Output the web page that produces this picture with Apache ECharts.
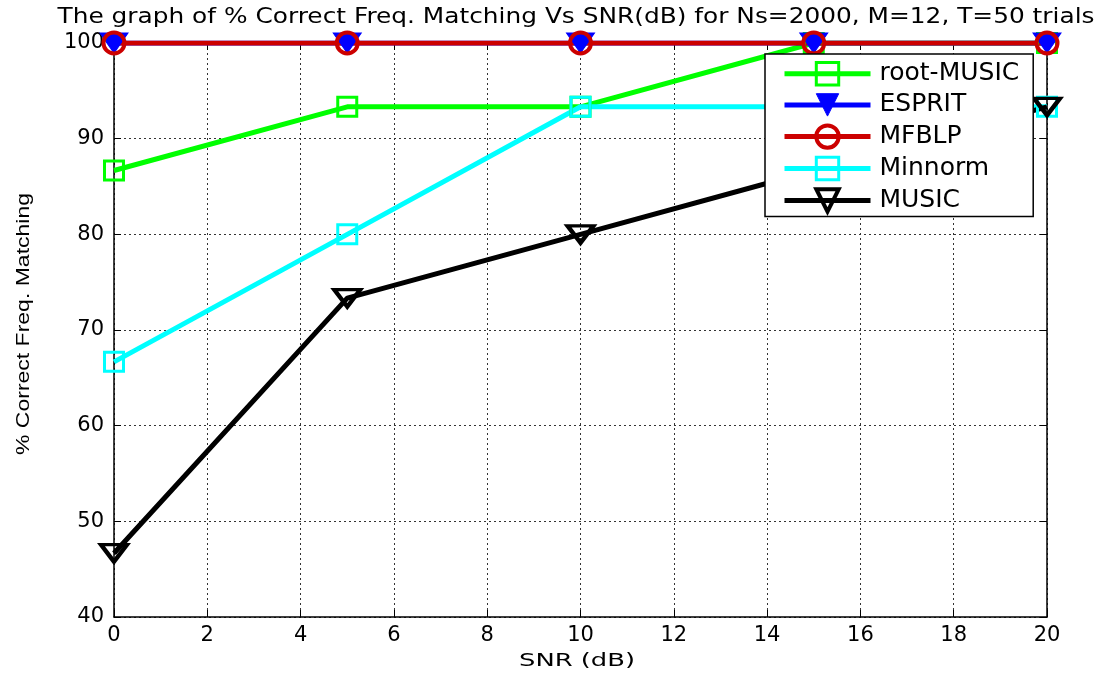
<!DOCTYPE html>
<html>
<head>
<meta charset="utf-8">
<script src="https://cdn.jsdelivr.net/npm/echarts@6/dist/echarts.min.js"></script>
<style>
  html, body { margin: 0; padding: 0; background: #fff; }
  #chart { width: 1114px; height: 680px; }
</style>
</head>
<body>
<div id="chart"></div>
<script>
// SNR values (dB) at which each method was evaluated
const snr = [0, 5, 10, 15, 20];

// % of trials with correct frequency matching, per method
const rootMusic = [86.67, 93.33, 93.33, 100, 100];
const esprit    = [100, 100, 100, 100, 100];
const mfblp     = [100, 100, 100, 100, 100];
const minnorm   = [66.67, 80, 93.33, 93.33, 93.33];
const music     = [46.67, 73.33, 80, 86.67, 93.33];

const methods = ['root-MUSIC', 'ESPRIT', 'MFBLP', 'Minnorm', 'MUSIC'];

const titleText = 'The graph of % Correct Freq. Matching Vs SNR(dB) for Ns=2000, M=12, T=50 trials';
const xName = 'SNR (dB)';
const yName = '% Correct Freq. Matching';

const FONT = 'DejaVu Sans, Verdana, sans-serif';
const FONT_NARROW = 'Liberation Sans, Arial, Helvetica, sans-serif';

// Horizontal stretch factor so a string spans a given pixel width
const measureCtx = document.createElement('canvas').getContext('2d');
function stretchTo(text, font, targetWidth) {
  measureCtx.font = font;
  return targetWidth / measureCtx.measureText(text).width;
}

function pairs(vals) {
  return snr.map((x, i) => [x, vals[i]]);
}

function makeSeries(name, vals, color, symbol, size, rotate, filled, lineW, borderW) {
  return {
    name: name,
    type: 'line',
    data: pairs(vals),
    symbol: symbol,
    symbolSize: size,
    symbolRotate: rotate,
    showAllSymbol: true,
    lineStyle: { color: color, width: lineW },
    itemStyle: {
      color: filled ? color : 'rgba(255,255,255,0)',
      borderColor: color,
      borderWidth: borderW
    },
    emphasis: { disabled: true },
    animation: false
  };
}

const chart = echarts.init(document.getElementById('chart'), null, { renderer: 'canvas' });

const axisLineStyle = { color: '#000', width: 1.5 };
const tickStyle = { show: true, inside: true, length: 7, lineStyle: { color: '#000', width: 1 } };
const gridLineStyle = { color: '#333', width: 1, type: [2, 3] };
const tickLabel = { fontFamily: FONT, fontSize: 21, color: '#000' };

const option = {
  backgroundColor: '#ffffff',
  animation: false,
  grid: { left: 114, right: 67, top: 43, bottom: 63 },
  graphic: [
    {
      type: 'text', x: 576, y: 18, scaleX: stretchTo(titleText, '21px ' + FONT, 1037),
      style: { text: titleText, font: '21px ' + FONT, fill: '#000', align: 'center', verticalAlign: 'middle' }
    },
    {
      type: 'text', x: 577, y: 661, scaleX: stretchTo(xName, '18px ' + FONT, 116),
      style: { text: xName, font: '18px ' + FONT, fill: '#000', align: 'center', verticalAlign: 'middle' }
    },
    {
      type: 'text', x: 24, y: 324, rotation: Math.PI / 2, scaleX: stretchTo(yName, '19px ' + FONT_NARROW, 262),
      style: { text: yName, font: '19px ' + FONT_NARROW, fill: '#000', align: 'center', verticalAlign: 'middle' }
    }
  ],
  legend: {
    orient: 'vertical',
    left: 765,
    top: 54,
    padding: [7, 14, 3, 17],
    itemGap: 6,
    itemWidth: 86,
    itemHeight: 28,
    backgroundColor: '#fff',
    borderColor: '#000',
    borderWidth: 1.5,
    borderRadius: 0,
    lineStyle: { width: 5 },
    itemStyle: { borderWidth: 3 },
    textStyle: { fontFamily: FONT, fontSize: 25, color: '#000', padding: [0, 0, 0, 4] },
    data: [
      { name: methods[0] },
      { name: methods[1], itemStyle: { borderWidth: 1 } },
      { name: methods[2], itemStyle: { borderWidth: 4 } },
      { name: methods[3] },
      { name: methods[4], itemStyle: { borderWidth: 4 } }
    ]
  },
  xAxis: [{
    type: 'value',
    min: 0, max: 20, interval: 2,
    axisLine: { show: true, onZero: false, lineStyle: axisLineStyle },
    axisTick: tickStyle,
    axisLabel: Object.assign({ margin: 8 }, tickLabel),
    splitLine: { show: true, lineStyle: gridLineStyle }
  }, {
    type: 'value',
    position: 'top',
    min: 0, max: 20, interval: 2,
    axisLine: { show: true, onZero: false, lineStyle: axisLineStyle },
    axisTick: tickStyle,
    axisLabel: { show: false },
    splitLine: { show: false }
  }],
  yAxis: [{
    type: 'value',
    min: 40, max: 100, interval: 10,
    axisLine: { show: true, onZero: false, lineStyle: axisLineStyle },
    axisTick: tickStyle,
    axisLabel: Object.assign({ margin: 10 }, tickLabel),
    splitLine: { show: true, lineStyle: gridLineStyle }
  }, {
    type: 'value',
    position: 'right',
    min: 40, max: 100, interval: 10,
    axisLine: { show: true, onZero: false, lineStyle: axisLineStyle },
    axisTick: tickStyle,
    axisLabel: { show: false },
    splitLine: { show: false }
  }],
  series: [
    makeSeries(methods[0], rootMusic, '#00ff00', 'rect', 19, 0, false, 5, 3),
    makeSeries(methods[1], esprit, '#0000ff', 'triangle', [28, 20], 180, true, 5, 1),
    makeSeries(methods[2], mfblp, '#cc0000', 'circle', 21, 0, false, 5, 4),
    makeSeries(methods[3], minnorm, '#00ffff', 'rect', 19, 0, false, 5, 3),
    makeSeries(methods[4], music, '#000000', 'triangle', [26, 17], 180, false, 5, 4)
  ]
};

chart.setOption(option);
</script>
</body>
</html>
